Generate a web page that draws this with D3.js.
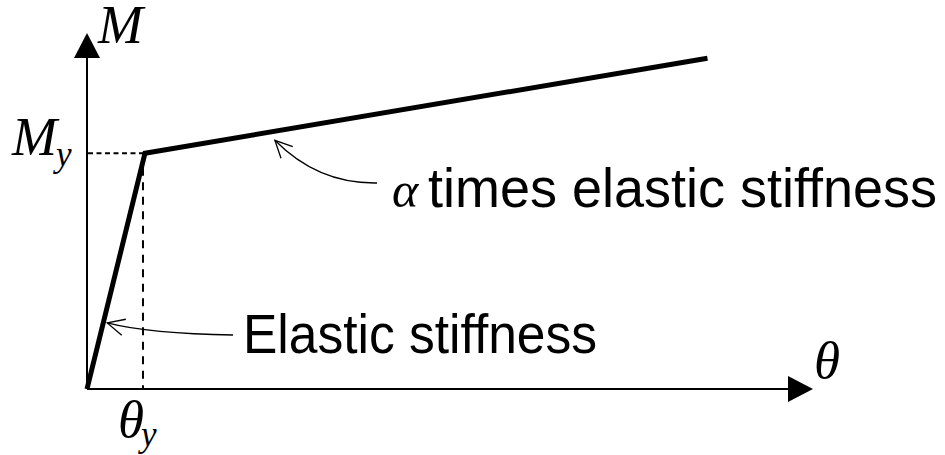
<!DOCTYPE html>
<html>
<head>
<meta charset="utf-8">
<script src="https://cdn.jsdelivr.net/npm/d3@7"></script>
<style>
  html, body { margin: 0; padding: 0; background: #fff; }
  svg { display: block; }
  .serif { font-family: "Liberation Serif", "Times New Roman", serif; font-style: italic; }
  .sans { font-family: "Liberation Sans", Arial, sans-serif; }
</style>
</head>
<body>
<svg id="chart" width="945" height="455"></svg>
<script>
// Bilinear moment–rotation backbone (normalised: θ/θy, M/My)
const backboneTheta = [0, 1, 10.7];
const backboneMoment = [0, 1, 1.403];

// Yield point used for the dashed guides
const yieldTheta = 1;
const yieldMoment = 1;

// Axis extents (arrow tips)
const thetaMax = 12.52;
const momentMax = 1.51;

// Annotation labels
const axisLabels = { x: "θ", y: "M" };
const yieldLabels = { theta: ["θ", "y"], moment: ["M", "y"] };
const annotationText = ["Elastic stiffness", "times elastic stiffness"];

const svg = d3.select("#chart");

const x = d3.scaleLinear().domain([0, thetaMax]).range([87, 813]);
const y = d3.scaleLinear().domain([0, momentMax]).range([389, 33]);

// ---- axes with filled arrowheads ----
const head = 25, halfW = 13;
svg.append("line")
  .attr("x1", x(0)).attr("y1", y(0))
  .attr("x2", x(thetaMax) - head).attr("y2", y(0))
  .attr("stroke", "#000").attr("stroke-width", 2);
svg.append("path")
  .attr("d", `M${x(thetaMax)},${y(0)} L${x(thetaMax) - head},${y(0) - halfW} L${x(thetaMax) - head},${y(0) + halfW} Z`)
  .attr("fill", "#000");

svg.append("line")
  .attr("x1", x(0)).attr("y1", y(0))
  .attr("x2", x(0)).attr("y2", y(momentMax) + head)
  .attr("stroke", "#000").attr("stroke-width", 2);
svg.append("path")
  .attr("d", `M${x(0)},${y(momentMax)} L${x(0) - halfW},${y(momentMax) + head} L${x(0) + halfW},${y(momentMax) + head} Z`)
  .attr("fill", "#000");

// ---- dashed yield guides ----
svg.append("line")
  .attr("x1", x(0) + 1).attr("y1", y(yieldMoment))
  .attr("x2", x(yieldTheta)).attr("y2", y(yieldMoment))
  .attr("stroke", "#000").attr("stroke-width", 1.8)
  .attr("stroke-dasharray", "5,3.5");
svg.append("line")
  .attr("x1", x(yieldTheta) - 2).attr("y1", y(yieldMoment))
  .attr("x2", x(yieldTheta) - 2).attr("y2", y(0))
  .attr("stroke", "#000").attr("stroke-width", 2)
  .attr("stroke-dasharray", "8,6.5");

// ---- backbone curve ----
const pts = backboneTheta.map((t, i) => [t, backboneMoment[i]]);
svg.append("path")
  .datum(pts)
  .attr("d", d3.line().x(d => x(d[0])).y(d => y(d[1])))
  .attr("fill", "none")
  .attr("stroke", "#000")
  .attr("stroke-width", 5)
  .attr("stroke-linejoin", "miter");

// ---- axis labels ----
svg.append("text").attr("class", "serif")
  .attr("x", x(0) + 11).attr("y", 43)
  .attr("font-size", 54).text(axisLabels.y);
svg.append("text").attr("class", "serif")
  .attr("x", x(thetaMax) + 1).attr("y", 378)
  .attr("font-size", 53).text(axisLabels.x);

// My label: base letter plus a lowered subscript
svg.append("text").attr("class", "serif")
  .attr("x", 12).attr("y", y(yieldMoment) + 2).attr("font-size", 54)
  .text(yieldLabels.moment[0]);
svg.append("text").attr("class", "serif")
  .attr("x", 56).attr("y", y(yieldMoment) + 13).attr("font-size", 35)
  .text(yieldLabels.moment[1]);

// θy label
svg.append("text").attr("class", "serif")
  .attr("x", 118).attr("y", 437).attr("font-size", 53)
  .text(yieldLabels.theta[0]);
svg.append("text").attr("class", "serif")
  .attr("x", 141).attr("y", 446).attr("font-size", 35)
  .text(yieldLabels.theta[1]);

// ---- annotation arrows ----
function openHead(tip, from, len) {
  const ang = Math.atan2(from[1] - tip[1], from[0] - tip[0]);
  const spread = 0.45;
  const a = [tip[0] + len * Math.cos(ang - spread), tip[1] + len * Math.sin(ang - spread)];
  const b = [tip[0] + len * Math.cos(ang + spread), tip[1] + len * Math.sin(ang + spread)];
  return `M${a[0]},${a[1]} L${tip[0]},${tip[1]} L${b[0]},${b[1]}`;
}

// Elastic stiffness pointer: tip sits just right of the elastic branch
const eTip = [x(0.28) + 4, y(0.28)];
const eStart = [233, 335];
const eCtrl = [150, 334];
svg.append("path")
  .attr("d", `M${eStart[0]},${eStart[1]} Q${eCtrl[0]},${eCtrl[1]} ${eTip[0]},${eTip[1]}`)
  .attr("fill", "none").attr("stroke", "#000").attr("stroke-width", 1.3);
svg.append("path")
  .attr("d", openHead(eTip, eCtrl, 19))
  .attr("fill", "none").attr("stroke", "#000").attr("stroke-width", 1.3);

// α pointer: tip sits just below the hardening branch
const hTheta = 3.24;
const hMoment = 1 + (backboneMoment[2] - 1) / (backboneTheta[2] - 1) * (hTheta - 1);
const aTip = [x(hTheta), y(hMoment) + 9];
const aStart = [377, 183];
const aCtrl = [318, 184];
svg.append("path")
  .attr("d", `M${aStart[0]},${aStart[1]} Q${aCtrl[0]},${aCtrl[1]} ${aTip[0]},${aTip[1]}`)
  .attr("fill", "none").attr("stroke", "#000").attr("stroke-width", 1.3);
svg.append("path")
  .attr("d", openHead(aTip, aCtrl, 19))
  .attr("fill", "none").attr("stroke", "#000").attr("stroke-width", 1.3);

// ---- annotation text ----
svg.append("text").attr("class", "sans")
  .attr("x", 243).attr("y", 353).attr("font-size", 56)
  .attr("textLength", 354).attr("lengthAdjust", "spacingAndGlyphs")
  .text(annotationText[0]);

svg.append("text").attr("class", "serif")
  .attr("x", 392).attr("y", 207).attr("font-size", 50).text("α");
svg.append("text").attr("class", "sans")
  .attr("x", 428).attr("y", 207).attr("font-size", 56)
  .attr("textLength", 509).attr("lengthAdjust", "spacingAndGlyphs")
  .text(annotationText[1]);
</script>
</body>
</html>
